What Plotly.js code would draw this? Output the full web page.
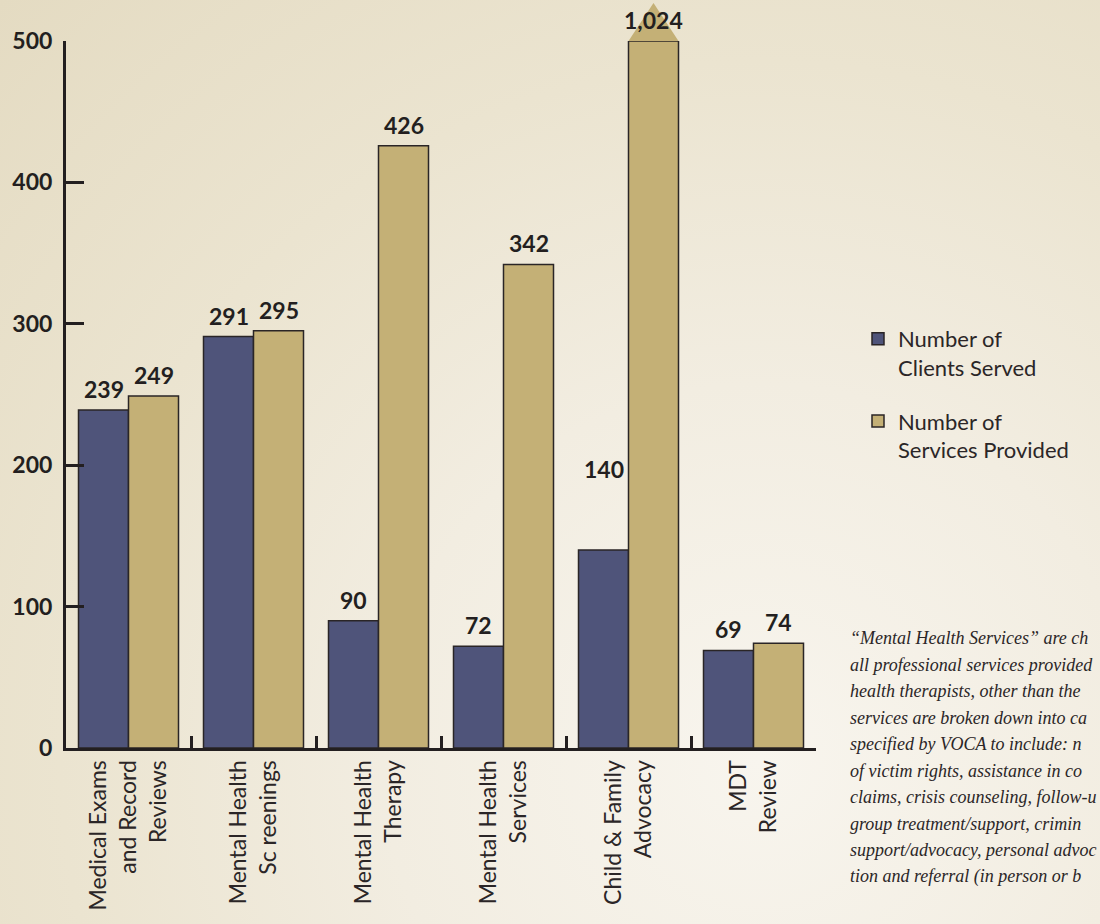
<!DOCTYPE html>
<html>
<head>
<meta charset="utf-8">
<script src="https://cdn.plot.ly/plotly-3.0.1.min.js"></script>
<style>
  html, body { margin: 0; padding: 0; }
  body {
    width: 1100px; height: 924px; overflow: hidden;
    background: radial-gradient(circle at 760px 760px, #f8f5ee 0%, #f2ede1 35%, #ebe4d0 65%, #e4dbc2 100%);
  }
  #chart { width: 1100px; height: 924px; }
</style>
</head>
<body>
<div id="chart"></div>
<script>
// ---- data ----
const categories = [
  "Medical Exams<br>and Record<br>Reviews",
  "Mental Health<br>Sc reenings",
  "Mental Health<br>Therapy",
  "Mental Health<br>Services",
  "Child & Family<br>Advocacy",
  "MDT<br>Review"
];
const clientsServed = [239, 291, 90, 72, 140, 69];
const servicesProvided = [249, 295, 426, 342, 1024, 74];
const yTickValues = [0, 100, 200, 300, 400, 500];
const seriesNames = ["Number of<br>Clients Served", "Number of<br>Services Provided"];
// the note is cut by the right edge of the page in the original
const noteLines = [
  "\u201cMental Health Services\u201d are ch",
  "all professional services provided",
  "health therapists, other than the",
  "services are broken down into ca",
  "specified by VOCA to include: n",
  "of victim rights, assistance in co",
  "claims, crisis counseling, follow-u",
  "group treatment/support, crimin",
  "support/advocacy, personal advoc",
  "tion and referral (in person or b"
];

// ---- style ----
const navy = "#4f547a";
const tan = "#c4b076";
const ink = "#231f20";
const yCap = yTickValues[yTickValues.length - 1];
const nCat = categories.length;
const plotTop = 41, plotBottom = 748, plotLeft = 66, plotRight = 816;
const plotH = plotBottom - plotTop, plotW = plotRight - plotLeft;
// extra lift for the label of the clients bar next to the capped bar
const clientLabelLift = { 4: 60 };

const traces = [
  {
    type: "bar", name: seriesNames[0], legendgroup: "a",
    x: categories, y: clientsServed.map(v => Math.min(v, yCap)),
    marker: { color: navy, line: { color: "#2a2526", width: 1.5 } },
    hoverinfo: "skip"
  },
  {
    type: "bar", name: seriesNames[1], legendgroup: "b",
    x: categories, y: servicesProvided.map(v => Math.min(v, yCap)),
    marker: { color: tan, line: { color: "#2a2526", width: 1.5 } },
    hoverinfo: "skip"
  }
];

const annotations = [];
[clientsServed, servicesProvided].forEach((arr, s) => {
  arr.forEach((v, i) => {
    const lift = (s === 0 && clientLabelLift[i]) ? clientLabelLift[i] : 0;
    annotations.push({
      xref: "x", yref: "y",
      x: i + (s === 0 ? -0.2 : 0.2),
      y: Math.min(v, yCap),
      yanchor: "bottom", xanchor: "center", yshift: 5 + lift,
      text: v.toLocaleString("en-US"),
      showarrow: false,
      font: { family: "Lato, sans-serif", size: 23, weight: 700, color: ink }
    });
  });
});

noteLines.forEach((t, k) => {
  const yc = 638 + k * 26.5;
  annotations.push({
    xref: "paper", yref: "paper",
    x: (848 - plotLeft) / plotW, xanchor: "left",
    y: (plotBottom - yc) / plotH, yanchor: "middle",
    text: t, showarrow: false, align: "left",
    font: { family: "Liberation Serif, serif", size: 18, style: "italic", color: "#2b2627" }
  });
});

const shapes = [];
servicesProvided.forEach((v, i) => {
  if (v > yCap) {
    const left = (i + 0.5) / nCat, right = (i + 0.9) / nCat, mid = (i + 0.7) / nCat;
    const apex = 1 + 38 / plotH;
    shapes.push({
      type: "path", xref: "paper", yref: "paper",
      path: `M ${left} 1 L ${mid} ${apex} L ${right} 1 Z`,
      fillcolor: tan, line: { width: 0 }, layer: "below"
    });
  }
});

const layout = {
  width: 1100, height: 924,
  margin: { l: plotLeft, r: 1100 - plotRight, t: plotTop, b: 924 - plotBottom, pad: 0 },
  paper_bgcolor: "rgba(0,0,0,0)",
  plot_bgcolor: "rgba(0,0,0,0)",
  barmode: "group", bargap: 0.2, bargroupgap: 0,
  showlegend: true,
  legend: {
    x: (858 - plotLeft) / plotW, xanchor: "left",
    y: (plotBottom - 318) / plotH, yanchor: "top",
    valign: "top", tracegroupgap: 22,
    font: { family: "Lato, sans-serif", size: 22, color: "#2b2627" },
    bgcolor: "rgba(0,0,0,0)"
  },
  xaxis: {
    type: "category",
    showline: true, linewidth: 3, linecolor: ink,
    ticks: "inside", tickson: "boundaries", ticklen: 12, tickwidth: 3, tickcolor: ink,
    tickangle: -90,
    tickfont: { family: "Lato, sans-serif", size: 23, color: "#2b2627" },
    showgrid: false, zeroline: false, automargin: false,
    range: [-0.5, nCat - 0.5], fixedrange: true
  },
  yaxis: {
    range: [0, yCap],
    showline: true, linewidth: 3, linecolor: ink,
    ticks: "inside", ticklen: 18, tickwidth: 3, tickcolor: ink,
    tickvals: yTickValues, ticklabelstandoff: 6,
    tickfont: { family: "Lato, sans-serif", size: 23, weight: 700, color: ink },
    showgrid: false, zeroline: false, automargin: false, fixedrange: true
  },
  annotations: annotations,
  shapes: shapes
};

Plotly.newPlot("chart", traces, layout, { displayModeBar: false, staticPlot: true });
</script>
</body>
</html>
